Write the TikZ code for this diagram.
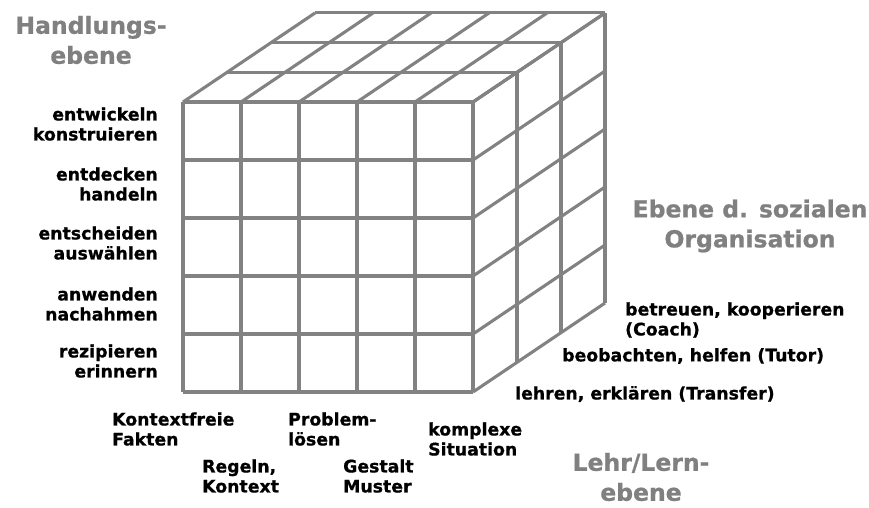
\documentclass[tikz,border=0pt]{standalone}
\usepackage{fontspec}
\setmainfont{DejaVu Sans}[BoldFeatures = {FakeBold = 0.8}]
\definecolor{CubeGrey}{RGB}{130, 130, 130}
\definecolor{TitleGrey}{RGB}{128, 128, 128}

\begin{document}
\begin{tikzpicture}[
        x = 1pt, y = -1pt,
        edge/.style = {
            CubeGrey,
            line width = 3.1pt
        },
        lbl/.style = {
            inner sep = 0pt,
            font = \fontsize{17.3}{20}\selectfont\bfseries
        },
        ttl/.style = {
            inner sep = 0pt,
            align = center,
            text = TitleGrey,
            font = \fontsize{23.5}{30}\selectfont\bfseries
        }
    ]
        \useasboundingbox (0,0) rectangle (869,507);

        % front face
        \foreach \i in {0,...,5} {
            \draw[edge] (183+58*\i,102) -- ++(0,290);
            \draw[edge] (183,102+58*\i) -- ++(290,0);
        }
        % top face
        \foreach \i in {0,...,5}
            \draw[edge] (183+58*\i,102) -- ++(132,-89);
        \foreach \k in {1,2,3}
            \draw[edge] (183+44*\k,102-29.7*\k) -- ++(290,0);
        % right face
        \foreach \i in {0,...,5}
            \draw[edge] (473,102+58*\i) -- ++(132,-89);
        \foreach \k in {1,2,3}
            \draw[edge] (473+44*\k,102-29.7*\k) -- ++(0,290);

        \node[ttl] (hlevel) at (91,40) {Handlungs-\\ebene};
        \node[ttl] (olevel) at (750,226) {Ebene d. sozialen\\Organisation};
        \node[ttl] (llevel) at (641,477) {Lehr/Lern-\\ebene};

        \node[lbl, align = right, anchor = east] (act5) at (158,124) {entwickeln\\konstruieren};
        \node[lbl, align = right, anchor = east] (act4) at (158,184) {entdecken\\handeln};
        \node[lbl, align = right, anchor = east] (act3) at (158,243) {entscheiden\\auswählen};
        \node[lbl, align = right, anchor = east] (act2) at (158,304) {anwenden\\nachahmen};
        \node[lbl, align = right, anchor = east] (act1) at (158,361) {rezipieren\\erinnern};

        \node[lbl, align = left, anchor = west] (con1) at (112,429) {Kontextfreie\\Fakten};
        \node[lbl, align = left, anchor = west] (con2) at (202,476) {Regeln,\\Kontext};
        \node[lbl, align = left, anchor = west] (con3) at (288,429) {Problem-\\lösen};
        \node[lbl, align = left, anchor = west] (con4) at (343,476) {Gestalt\\Muster};
        \node[lbl, align = left, anchor = west] (con5) at (428,439) {komplexe\\Situation};

        \node[lbl, anchor = west] (soc1) at (515,394) {lehren, erklären (Transfer)};
        \node[lbl, anchor = west] (soc2) at (562,356) {beobachten, helfen (Tutor)};
        \node[lbl, align = left, anchor = west] (soc3) at (625,320) {betreuen, kooperieren\\(Coach)};
    \end{tikzpicture}
\end{document}
